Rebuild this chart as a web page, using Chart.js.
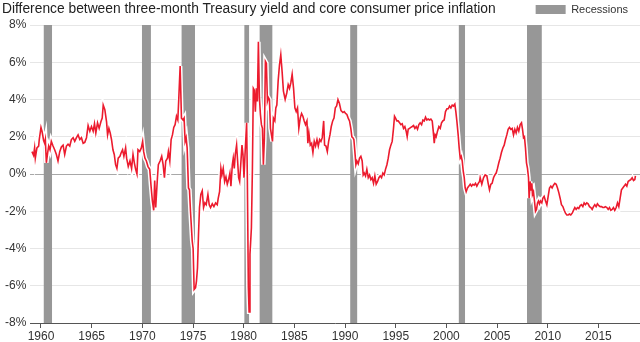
<!DOCTYPE html>
<html>
<head>
<meta charset="utf-8">
<script src="https://cdn.jsdelivr.net/npm/chart.js@4.4.1/dist/chart.umd.min.js"></script>
<style>
  body { margin: 0; background: #fff; }
  #wrap { position: relative; width: 640px; height: 342px; }
  #title {
    position: absolute; left: 2px; top: 0px;
    font: 13.8px Arial, "Liberation Sans", sans-serif; color: #222;
    line-height: 17px; white-space: nowrap;
  }
</style>
</head>
<body>
<div id="wrap">
  <canvas id="spreadChart" width="640" height="342"></canvas>
  <div id="title">Difference between three-month Treasury yield and core consumer price inflation</div>
</div>
<script>
// monthly-ish readings, decimal year
var years = [
  1959.11, 1959.27, 1959.37, 1959.44, 1959.60, 1959.77, 1959.83, 1960.00, 1960.10, 1960.26,
  1960.36, 1960.43, 1960.53, 1960.66, 1960.76, 1960.89, 1961.02, 1961.19, 1961.35, 1961.52,
  1961.68, 1961.85, 1962.01, 1962.18, 1962.34, 1962.51, 1962.67, 1962.84, 1963.00, 1963.17,
  1963.33, 1963.50, 1963.66, 1963.83, 1963.99, 1964.16, 1964.32, 1964.49, 1964.65, 1964.82,
  1964.98, 1965.15, 1965.28, 1965.41, 1965.58, 1965.74, 1965.91, 1966.04, 1966.14, 1966.30,
  1966.47, 1966.57, 1966.70, 1966.83, 1966.96, 1967.10, 1967.23, 1967.36, 1967.49, 1967.62,
  1967.79, 1967.92, 1968.05, 1968.18, 1968.35, 1968.45, 1968.61, 1968.78, 1968.94, 1969.08,
  1969.21, 1969.34, 1969.47, 1969.57, 1969.74, 1969.90, 1970.03, 1970.13, 1970.26, 1970.40,
  1970.56, 1970.73, 1970.86, 1970.99, 1971.12, 1971.22, 1971.32, 1971.49, 1971.58, 1971.75,
  1971.91, 1972.05, 1972.18, 1972.31, 1972.48, 1972.57, 1972.71, 1972.84, 1972.97, 1973.10,
  1973.23, 1973.37, 1973.50, 1973.60, 1973.73, 1973.86, 1974.02, 1974.12, 1974.22, 1974.32,
  1974.42, 1974.55, 1974.65, 1974.75, 1974.92, 1975.01, 1975.11, 1975.25, 1975.34, 1975.44,
  1975.54, 1975.64, 1975.77, 1975.91, 1976.04, 1976.17, 1976.30, 1976.47, 1976.60, 1976.73,
  1976.90, 1977.06, 1977.23, 1977.39, 1977.49, 1977.62, 1977.75, 1977.85, 1977.98, 1978.12,
  1978.25, 1978.38, 1978.51, 1978.64, 1978.74, 1978.88, 1978.97, 1979.07, 1979.17, 1979.30,
  1979.40, 1979.50, 1979.60, 1979.73, 1979.83, 1979.93, 1980.03, 1980.13, 1980.29, 1980.36,
  1980.46, 1980.53, 1980.62, 1980.76, 1980.86, 1980.95, 1981.05, 1981.15, 1981.25, 1981.35,
  1981.45, 1981.55, 1981.65, 1981.75, 1981.85, 1981.94, 1982.04, 1982.14, 1982.24, 1982.34,
  1982.44, 1982.54, 1982.64, 1982.74, 1982.84, 1982.93, 1983.07, 1983.17, 1983.27, 1983.40,
  1983.53, 1983.66, 1983.79, 1983.92, 1984.09, 1984.25, 1984.39, 1984.52, 1984.65, 1984.78,
  1984.92, 1985.05, 1985.18, 1985.31, 1985.44, 1985.58, 1985.71, 1985.84, 1985.97, 1986.10,
  1986.24, 1986.33, 1986.43, 1986.57, 1986.70, 1986.83, 1986.96, 1987.09, 1987.23, 1987.36,
  1987.49, 1987.62, 1987.75, 1987.89, 1987.98, 1988.12, 1988.25, 1988.38, 1988.51, 1988.64,
  1988.78, 1988.91, 1989.04, 1989.17, 1989.30, 1989.44, 1989.60, 1989.79, 1989.92, 1990.05,
  1990.18, 1990.31, 1990.44, 1990.57, 1990.67, 1990.77, 1990.87, 1990.97, 1991.07, 1991.17,
  1991.30, 1991.43, 1991.56, 1991.69, 1991.79, 1991.89, 1992.02, 1992.15, 1992.29, 1992.42,
  1992.55, 1992.68, 1992.81, 1992.94, 1993.07, 1993.21, 1993.34, 1993.47, 1993.60, 1993.73,
  1993.86, 1993.99, 1994.13, 1994.26, 1994.39, 1994.52, 1994.65, 1994.78, 1994.88, 1994.98,
  1995.11, 1995.24, 1995.38, 1995.51, 1995.64, 1995.77, 1995.90, 1996.03, 1996.13, 1996.23,
  1996.36, 1996.49, 1996.63, 1996.76, 1996.89, 1997.02, 1997.15, 1997.28, 1997.41, 1997.55,
  1997.68, 1997.81, 1997.94, 1998.07, 1998.20, 1998.34, 1998.47, 1998.60, 1998.70, 1998.80,
  1998.89, 1998.99, 1999.12, 1999.26, 1999.39, 1999.52, 1999.65, 1999.78, 1999.91, 2000.05,
  2000.18, 2000.31, 2000.44, 2000.57, 2000.70, 2000.83, 2000.93, 2001.03, 2001.16, 2001.26,
  2001.36, 2001.46, 2001.56, 2001.66, 2001.76, 2001.85, 2001.95, 2002.08, 2002.22, 2002.35,
  2002.48, 2002.61, 2002.74, 2002.87, 2003.00, 2003.14, 2003.27, 2003.33, 2003.49, 2003.66,
  2003.82, 2003.99, 2004.12, 2004.25, 2004.38, 2004.51, 2004.65, 2004.78, 2004.91, 2005.04,
  2005.17, 2005.30, 2005.43, 2005.57, 2005.70, 2005.83, 2005.96, 2006.09, 2006.22, 2006.36,
  2006.49, 2006.62, 2006.75, 2006.88, 2007.01, 2007.14, 2007.28, 2007.41, 2007.51, 2007.61,
  2007.70, 2007.80, 2007.90, 2008.00, 2008.10, 2008.16, 2008.26, 2008.36, 2008.43, 2008.49,
  2008.59, 2008.69, 2008.79, 2008.89, 2008.99, 2009.08, 2009.18, 2009.28, 2009.41, 2009.51,
  2009.64, 2009.78, 2009.91, 2010.04, 2010.17, 2010.30, 2010.43, 2010.56, 2010.70, 2010.83,
  2010.96, 2011.09, 2011.22, 2011.35, 2011.49, 2011.62, 2011.75, 2011.88, 2012.01, 2012.14,
  2012.27, 2012.41, 2012.54, 2012.67, 2012.80, 2012.93, 2013.06, 2013.20, 2013.33, 2013.46,
  2013.59, 2013.72, 2013.85, 2013.98, 2014.12, 2014.25, 2014.38, 2014.51, 2014.64, 2014.77,
  2014.90, 2015.04, 2015.17, 2015.30, 2015.43, 2015.56, 2015.69, 2015.83, 2015.96, 2016.09,
  2016.22, 2016.35, 2016.48, 2016.61, 2016.75, 2016.88, 2017.01, 2017.14, 2017.27, 2017.40,
  2017.54, 2017.67, 2017.80, 2017.93, 2018.06, 2018.19, 2018.33, 2018.46, 2018.59, 2018.65
];

// yield minus core CPI, percent
var spread = [
  1.2, 1.0, 1.4, 0.85, 1.4, 1.5, 1.85, 2.5, 2.3, 1.8,
  1.65, 1.85, 0.6, 1.15, 1.5, 1.3, 1.75, 1.5, 1.3, 1.05,
  0.7, 1.2, 1.45, 1.55, 1.05, 1.5, 1.6, 1.5, 1.85, 1.95,
  1.75, 1.95, 2.1, 1.85, 1.95, 1.65, 1.7, 1.95, 2.6, 2.3,
  2.55, 2.3, 2.7, 2.2, 2.75, 2.45, 2.8, 3.0, 3.7, 3.45,
  2.8, 2.1, 2.45, 2.2, 1.85, 1.3, 1.05, 0.5, 0.3, 0.85,
  0.95, 1.15, 1.3, 0.95, 1.4, 0.85, 0.4, 0.7, 0.3, 1.05,
  0.6, 0.25, 0.0, 1.3, 1.2, 1.4, 1.75, 1.2, 0.85, 0.7,
  0.4, 0.25, -0.65, -1.45, -1.95, -0.35, -1.8, -0.2, 0.5, 0.7,
  0.95, 0.5, -0.2, 0.7, 0.85, 1.2, 0.7, 1.85, 2.1, 2.5,
  2.65, 3.1, 2.9, 4.1, 5.8, 3.0, 2.9, 3.0, 1.75, 1.95,
  1.4, -0.75, -0.85, -2.0, -3.6, -4.0, -6.2, -6.1, -5.75, -5.05,
  -3.25, -1.8, -1.1, -0.9, -1.8, -1.55, -1.65, -1.1, -1.65, -1.8,
  -1.6, -1.75, -1.55, -1.65, -1.3, -0.95, 0.3, -0.05, 0.3, -0.4,
  -0.15, -0.55, -0.3, 0.05, -0.65, 0.5, 0.85, 0.3, 1.05, 1.55,
  0.7, -0.2, -0.4, 0.7, 1.55, 1.05, -0.2, 1.05, 2.75, -0.2,
  -6.1, -7.4, -4.3, -2.9, 0.3, 4.6, 4.5, 3.35, 4.6, 3.9,
  7.1, 4.1, 3.2, 2.65, 2.45, 0.5, 1.9, 6.05, 5.95, 3.9,
  4.1, 4.0, 2.45, 2.1, 1.75, 3.0, 2.85, 3.55, 3.7, 5.0,
  5.85, 6.4, 5.5, 4.45, 4.0, 4.35, 4.8, 4.6, 4.9, 5.35,
  4.6, 3.55, 3.35, 3.55, 2.45, 3.0, 3.25, 3.1, 2.85, 2.65,
  2.85, 1.65, 2.2, 1.55, 1.65, 1.15, 1.75, 1.5, 1.85, 1.5,
  1.85, 1.75, 1.95, 2.85, 1.55, 1.5, 1.2, 1.75, 2.1, 2.55,
  2.85, 3.0, 3.55, 3.65, 4.0, 3.8, 3.4, 3.3, 3.35, 3.25,
  3.2, 3.0, 2.85, 2.45, 2.0, 1.95, 1.85, 1.2, 0.5, 0.7,
  0.55, 0.85, 0.95, 0.7, -0.05, 0.05, -0.1, 0.25, -0.2, -0.05,
  -0.3, -0.2, -0.5, -0.1, -0.55, -0.4, -0.2, -0.1, -0.2, 0.05,
  -0.05, 0.25, 0.5, 0.85, 1.3, 1.55, 1.75, 2.45, 3.1, 3.0,
  2.85, 2.85, 2.75, 2.65, 2.7, 2.45, 2.55, 2.3, 2.0, 2.4,
  2.45, 2.5, 2.55, 2.6, 2.45, 2.55, 2.4, 2.65, 2.75, 2.65,
  2.9, 2.85, 3.05, 2.9, 2.95, 2.9, 2.95, 2.85, 2.3, 1.65,
  2.1, 2.0, 2.3, 2.55, 2.45, 2.75, 2.85, 2.9, 3.35, 3.5,
  3.5, 3.65, 3.55, 3.7, 3.65, 3.75, 3.35, 2.85, 2.1, 1.4,
  0.85, 0.95, 0.7, 0.15, -0.2, -0.75, -0.95, -0.75, -0.65, -0.55,
  -0.65, -0.55, -0.6, -0.5, -0.65, -0.5, -0.4, -0.2, -0.55, -0.2,
  -0.05, -0.1, -0.5, -0.85, -0.55, -0.5, -0.2, -0.05, 0.05, 0.3,
  0.6, 0.85, 1.15, 1.4, 1.55, 1.85, 2.1, 2.4, 2.5, 2.4,
  2.45, 2.1, 2.4, 2.2, 2.5, 2.3, 2.65, 2.75, 2.4, 1.95,
  2.0, 1.4, 0.6, 0.3, -0.2, -1.3, -0.4, -0.85, -0.5, -1.1,
  -0.95, -1.45, -2.0, -1.9, -1.55, -1.45, -1.6, -1.45, -1.55, -1.3,
  -1.2, -1.45, -1.65, -1.2, -0.75, -0.65, -0.75, -0.6, -0.5, -0.55,
  -0.75, -1.0, -1.3, -1.65, -1.75, -1.95, -2.1, -2.2, -2.2, -2.15,
  -2.2, -2.1, -1.95, -1.8, -1.9, -1.8, -1.85, -1.7, -1.65, -1.75,
  -1.55, -1.65, -1.55, -1.6, -1.75, -1.8, -1.9, -1.75, -1.65, -1.75,
  -1.6, -1.7, -1.75, -1.75, -1.8, -1.8, -1.75, -1.8, -1.9, -1.8,
  -1.95, -1.9, -1.8, -1.95, -1.8, -1.55, -1.75, -1.3, -0.85, -0.75,
  -0.65, -0.55, -0.65, -0.4, -0.35, -0.3, -0.2, -0.35, -0.3, -0.1
];

// NBER recessions as drawn
var recessionStart = [1960.25, 1969.95, 1973.85, 1980.05, 1981.55, 1990.5, 2001.2, 2007.95];
var recessionEnd = [1961.1, 1970.85, 1975.2, 1980.55, 1982.85, 1991.22, 2001.85, 2009.42];

var yearTicks = [1960, 1965, 1970, 1975, 1980, 1985, 1990, 1995, 2000, 2005, 2010, 2015];
var pctTicks = [-8, -6, -4, -2, 0, 2, 4, 6, 8];

var FONT = 'Arial, "Liberation Sans", sans-serif';

// pull the legend in a little from the right edge of the canvas
var legendInset = {
    id: 'legendInset',
    afterLayout: function (chart) {
        if (chart.legend) {
            chart.legend.right = chart.width - 8;
        }
    }
};

function makeChart() {
    var ctx = document.getElementById("spreadChart");

    var points = [];
    for (var i = 0; i < years.length; i++) {
        points.push({x: years[i], y: spread[i]});
    }

    // each recession is a filled block from the top of the axis down to its bottom
    var top = pctTicks[pctTicks.length - 1];
    var bands = [];
    for (var j = 0; j < recessionStart.length; j++) {
        bands.push({x: recessionStart[j], y: top});
        bands.push({x: recessionEnd[j], y: top});
        bands.push({x: recessionEnd[j], y: null});
    }

    var dataSpread = {
        label: "Spread",
        data: points,
        borderColor: '#ec1b2e',
        borderWidth: 1.6,
        pointRadius: 0,
        tension: 0,
        fill: false
    };

    var dataHalo = {
        label: "halo",
        data: points,
        borderColor: '#ffffff',
        borderWidth: 4.5,
        pointRadius: 0,
        tension: 0,
        fill: false
    };

    var dataRecessions = {
        label: "Recessions",
        data: bands,
        backgroundColor: '#979797',
        borderColor: 'rgba(0,0,0,0)',
        borderWidth: 0,
        pointRadius: 0,
        spanGaps: false,
        fill: 'start'
    };

    var chartOptions = {
        responsive: false,
        animation: false,
        layout: {padding: {left: 1, right: 0, top: 0, bottom: -4}},
        plugins: {
            legend: {
                display: true,
                position: 'top',
                align: 'end',
                labels: {
                    boxWidth: 30,
                    boxHeight: 9,
                    padding: 4,
                    color: '#333',
                    font: {family: FONT, size: 11},
                    filter: function (item) { return item.text === 'Recessions'; }
                }
            },
            tooltip: {enabled: false}
        },
        scales: {
            x: {
                type: 'linear',
                min: 1958.95,
                max: 2019.1,
                afterBuildTicks: function (axis) {
                    axis.ticks = yearTicks.map(function (v) { return {value: v}; });
                },
                ticks: {
                    autoSkip: false,
                    maxRotation: 0,
                    padding: 3,
                    color: '#333',
                    font: {family: FONT, size: 12, lineHeight: 1.0},
                    callback: function (v) { return String(v); }
                },
                grid: {drawOnChartArea: false, drawTicks: true, tickLength: 5, color: '#555'},
                border: {display: true, color: '#555', width: 1}
            },
            y: {
                min: -8,
                max: 8,
                afterBuildTicks: function (axis) {
                    axis.ticks = pctTicks.map(function (v) { return {value: v}; });
                },
                ticks: {
                    padding: 4,
                    color: '#333',
                    font: {family: FONT, size: 12},
                    callback: function (v) { return v + '%'; }
                },
                grid: {
                    drawTicks: false,
                    color: function (c) { return c.tick && c.tick.value === 0 ? '#a8a8a8' : '#e6e6e6'; }
                },
                border: {display: false}
            }
        }
    };

    new Chart(ctx, {
        type: 'line',
        data: {datasets: [dataSpread, dataHalo, dataRecessions]},
        options: chartOptions,
        plugins: [legendInset]
    });
}

document.addEventListener('DOMContentLoaded', makeChart);
</script>
</body>
</html>
